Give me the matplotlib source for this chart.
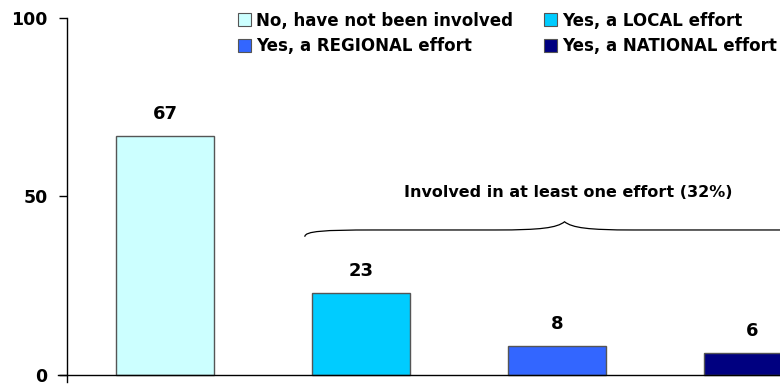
import matplotlib.pyplot as plt
from matplotlib.path import Path
from matplotlib.patches import PathPatch, Patch

categories = ["No, have not been involved", "Yes, a LOCAL effort",
              "Yes, a REGIONAL effort", "Yes, a NATIONAL effort"]
values = [67, 23, 8, 6]
colors = ["#CCFFFF", "#00CCFF", "#3366FF", "#000080"]
brace_label = "Involved in at least one effort (32%)"

plt.rcParams['font.family'] = 'DejaVu Sans'
plt.rcParams['font.weight'] = 'bold'

fig = plt.figure(figsize=(7.8, 3.86), dpi=100)
ax = fig.add_axes([67 / 780, 4 / 386, 713 / 780, 364 / 386])

x = range(len(values))
ax.bar(x, values, width=0.5, color=colors, edgecolor="#555555", linewidth=1, zorder=2)
for xi, v in zip(x, values):
    ax.annotate(str(v), (xi, v), xytext=(0, 16), textcoords="offset points",
                ha="center", va="center", fontsize=13, fontweight="bold")

ax.set_xlim(-0.5, 3.14)
ax.set_ylim(-2, 100)
ax.set_yticks([0, 50, 100])
ax.set_xticks([])
ax.tick_params(axis="y", direction="out", length=6, width=1, labelsize=12.5, pad=8)
ax.axhline(0, color="black", lw=1, xmin=-0.012, clip_on=False, zorder=3)
for s in ["top", "right", "bottom"]:
    ax.spines[s].set_visible(False)
ax.spines["left"].set_linewidth(1)
ax.spines["left"].set_bounds(-2, 100)

# curly brace over the "yes" bars
xl, xt, xr = 0.714, 2.04, 3.3
yb, yf, yt = 38.7, 40.6, 42.9
verts = [(xl, yb), (xl, yf - 0.3), (xl + 0.1, yf), (xl + 0.35, yf),
         (xt - 0.35, yf), (xt - 0.12, yf), (xt - 0.04, yf + 0.6), (xt, yt),
         (xt + 0.04, yf + 0.6), (xt + 0.12, yf), (xt + 0.35, yf),
         (xr, yf)]
codes = [Path.MOVETO, Path.CURVE4, Path.CURVE4, Path.CURVE4,
         Path.LINETO, Path.CURVE4, Path.CURVE4, Path.CURVE4,
         Path.CURVE4, Path.CURVE4, Path.CURVE4,
         Path.LINETO]
ax.add_patch(PathPatch(Path(verts, codes), fill=False, lw=0.9, color="black",
                       clip_on=False))
ax.text(xt + 0.02, 51, brace_label, ha="center", va="center", fontsize=11.5,
        fontweight="bold")

handles = [Patch(facecolor=c, edgecolor="#555555", lw=0.8) for c in colors]
order = [0, 2, 1, 3]
ax.legend([handles[i] for i in order], [categories[i] for i in order], ncol=2,
          loc="upper left", bbox_to_anchor=(226 / 780, 1.0), bbox_transform=fig.transFigure,
          frameon=False, fontsize=12, handlelength=0.8, handleheight=0.8,
          handletextpad=0.3, columnspacing=1.85, labelspacing=0.44, borderpad=0.2)

fig.savefig("out.png", dpi=100)
